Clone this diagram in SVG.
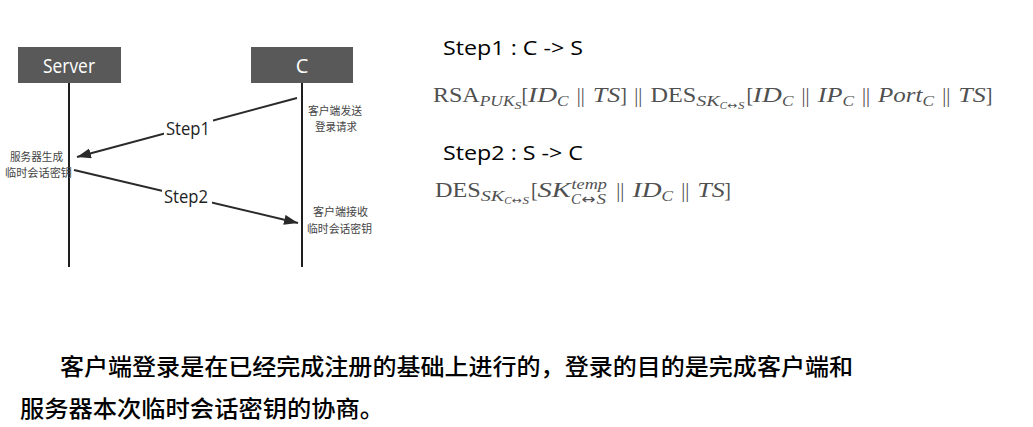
<svg xmlns="http://www.w3.org/2000/svg" width="1033" height="427" viewBox="0 0 1033 427">
<style>
.box{fill:#595959}
.boxt{font-family:"Open Sans","Noto Sans",sans-serif;font-size:20px;fill:#fff;text-anchor:middle}
.life{stroke:#1e1e1e;stroke-width:2}
.msg{stroke:#2a2a2a;stroke-width:2;fill:none}
.lbl{font-family:"Open Sans","Noto Sans",sans-serif;font-size:18px;fill:#222;text-anchor:middle}
.note{font-family:"Noto Sans CJK SC","Noto Sans",sans-serif;font-size:11px;fill:#444}
.step{font-family:"Open Sans","Noto Sans",sans-serif;font-size:20px;fill:#000}
.m{font-family:"Liberation Serif",serif;font-size:20px;fill:#505050}
.mi{font-family:"Liberation Serif",serif;font-style:italic;font-size:20px;fill:#505050}
.s{font-size:14px}
.ss{font-size:10px}
.ar{font-family:"DejaVu Sans",sans-serif;fill:#505050}
.par{font-family:"Liberation Serif",serif;font-size:20px;fill:#505050;text-anchor:middle}
.cap{font-family:"Noto Sans CJK SC","Noto Sans",sans-serif;font-size:23px;font-weight:500;fill:#000}
</style>
<defs>
<marker id="ah" markerUnits="userSpaceOnUse" markerWidth="15" markerHeight="11" refX="14" refY="5" orient="auto">
<path d="M0,0 L14,5 L0,10 z" fill="#2a2a2a"/>
</marker>
</defs>
<rect width="1033" height="427" fill="#fff"/>

<g id="server">
<rect class="box" x="18" y="47" width="103" height="36"/>
<text class="boxt" x="69" y="73" textLength="52" lengthAdjust="spacingAndGlyphs">Server</text>
<line class="life" x1="69" y1="83" x2="69" y2="267"/>
</g>
<g id="client">
<rect class="box" x="251" y="47" width="102" height="36"/>
<text class="boxt" x="302" y="73">C</text>
<line class="life" x1="302" y1="83" x2="302" y2="267"/>
</g>

<g id="connectors">
<line class="msg" x1="297" y1="98" x2="77" y2="157" marker-end="url(#ah)"/>
<rect x="164" y="119" width="49" height="22" fill="#fff"/>
<text class="lbl" x="188" y="135" textLength="44" lengthAdjust="spacingAndGlyphs">Step1</text>
<line class="msg" x1="74" y1="170" x2="298" y2="223" marker-end="url(#ah)"/>
<rect x="162" y="186" width="50" height="22" fill="#fff"/>
<text class="lbl" x="186" y="203" textLength="44" lengthAdjust="spacingAndGlyphs">Step2</text>
</g>

<g id="notes">
<text class="note" x="308" y="115" textLength="54" lengthAdjust="spacingAndGlyphs">客户端发送</text>
<text class="note" x="315" y="131" textLength="42" lengthAdjust="spacingAndGlyphs">登录请求</text>
<text class="note" x="10" y="161" textLength="53" lengthAdjust="spacingAndGlyphs">服务器生成</text>
<text class="note" x="5" y="177" textLength="67" lengthAdjust="spacingAndGlyphs">临时会话密钥</text>
<text class="note" x="313" y="216" textLength="55" lengthAdjust="spacingAndGlyphs">客户端接收</text>
<text class="note" x="307" y="233" textLength="65" lengthAdjust="spacingAndGlyphs">临时会话密钥</text>
</g>

<g id="step1">
<text class="step" x="443" y="55" textLength="140" lengthAdjust="spacingAndGlyphs">Step1 : C -&gt; S</text>
<text class="m" x="433" y="102" textLength="46.7" lengthAdjust="spacingAndGlyphs">RSA</text>
<text class="mi s" x="479.7" y="106" textLength="34.8" lengthAdjust="spacingAndGlyphs">PUK</text>
<text class="mi ss" x="514.6" y="109" textLength="7" lengthAdjust="spacingAndGlyphs">S</text>
<text class="m" x="521.5" y="102">[</text>
<text class="mi" x="528" y="102" textLength="29" lengthAdjust="spacingAndGlyphs">ID</text>
<text class="mi s" x="557" y="106" textLength="11.5" lengthAdjust="spacingAndGlyphs">C</text>
<text class="par" x="580.7" y="102">||</text>
<text class="mi" x="592.8" y="102" textLength="27.4" lengthAdjust="spacingAndGlyphs">TS</text>
<text class="m" x="620.2" y="102">]</text>
<text class="par" x="638.3" y="102">||</text>
<text class="m" x="650.4" y="102" textLength="45.8" lengthAdjust="spacingAndGlyphs">DES</text>
<text class="mi s" x="696.2" y="106" textLength="23.5" lengthAdjust="spacingAndGlyphs">SK</text>
<text class="mi ss" x="719.7" y="109" textLength="7.2" lengthAdjust="spacingAndGlyphs">C</text>
<text class="ar ss" x="727.2" y="109" textLength="10" lengthAdjust="spacingAndGlyphs">↔</text>
<text class="mi ss" x="738" y="109" textLength="6.5" lengthAdjust="spacingAndGlyphs">S</text>
<text class="m" x="746.4" y="102">[</text>
<text class="mi" x="752.8" y="102" textLength="29" lengthAdjust="spacingAndGlyphs">ID</text>
<text class="mi s" x="781.9" y="106" textLength="11.5" lengthAdjust="spacingAndGlyphs">C</text>
<text class="par" x="805.5" y="102">||</text>
<text class="mi" x="817.7" y="102" textLength="24.7" lengthAdjust="spacingAndGlyphs">IP</text>
<text class="mi s" x="842.4" y="106" textLength="11.5" lengthAdjust="spacingAndGlyphs">C</text>
<text class="par" x="866" y="102">||</text>
<text class="mi" x="878.1" y="102" textLength="44.4" lengthAdjust="spacingAndGlyphs">Port</text>
<text class="mi s" x="922.6" y="106" textLength="11.5" lengthAdjust="spacingAndGlyphs">C</text>
<text class="par" x="946.2" y="102">||</text>
<text class="mi" x="958.3" y="102" textLength="27.4" lengthAdjust="spacingAndGlyphs">TS</text>
<text class="m" x="985.7" y="102">]</text>
</g>

<g id="step2">
<text class="step" x="443" y="160" textLength="140" lengthAdjust="spacingAndGlyphs">Step2 : S -&gt; C</text>
<text class="m" x="435" y="197" textLength="45.8" lengthAdjust="spacingAndGlyphs">DES</text>
<text class="mi s" x="480.8" y="201" textLength="23.5" lengthAdjust="spacingAndGlyphs">SK</text>
<text class="mi ss" x="504.3" y="204" textLength="7.2" lengthAdjust="spacingAndGlyphs">C</text>
<text class="ar ss" x="511.8" y="204" textLength="10" lengthAdjust="spacingAndGlyphs">↔</text>
<text class="mi ss" x="522.5" y="204" textLength="6.5" lengthAdjust="spacingAndGlyphs">S</text>
<text class="m" x="531" y="197">[</text>
<text class="mi" x="537.4" y="197" textLength="33.4" lengthAdjust="spacingAndGlyphs">SK</text>
<text class="mi s" x="571.5" y="189" textLength="35.4" lengthAdjust="spacingAndGlyphs">temp</text>
<text class="mi s" x="571" y="203.5" textLength="10" lengthAdjust="spacingAndGlyphs">C</text>
<text class="ar s" x="581.5" y="203.5" textLength="14" lengthAdjust="spacingAndGlyphs">↔</text>
<text class="mi s" x="596.5" y="203.5" textLength="9.5" lengthAdjust="spacingAndGlyphs">S</text>
<text class="par" x="620.3" y="197">||</text>
<text class="mi" x="632.5" y="197" textLength="29" lengthAdjust="spacingAndGlyphs">ID</text>
<text class="mi s" x="661.6" y="201" textLength="11.5" lengthAdjust="spacingAndGlyphs">C</text>
<text class="par" x="685.2" y="197">||</text>
<text class="mi" x="697.3" y="197" textLength="27.4" lengthAdjust="spacingAndGlyphs">TS</text>
<text class="m" x="724.3" y="197">]</text>
</g>

<g id="caption">
<text class="cap" x="60" y="375" textLength="793" lengthAdjust="spacingAndGlyphs">客户端登录是在已经完成注册的基础上进行的，登录的目的是完成客户端和</text>
<text class="cap" x="20" y="417" textLength="364" lengthAdjust="spacingAndGlyphs">服务器本次临时会话密钥的协商。</text>
</g>
</svg>
